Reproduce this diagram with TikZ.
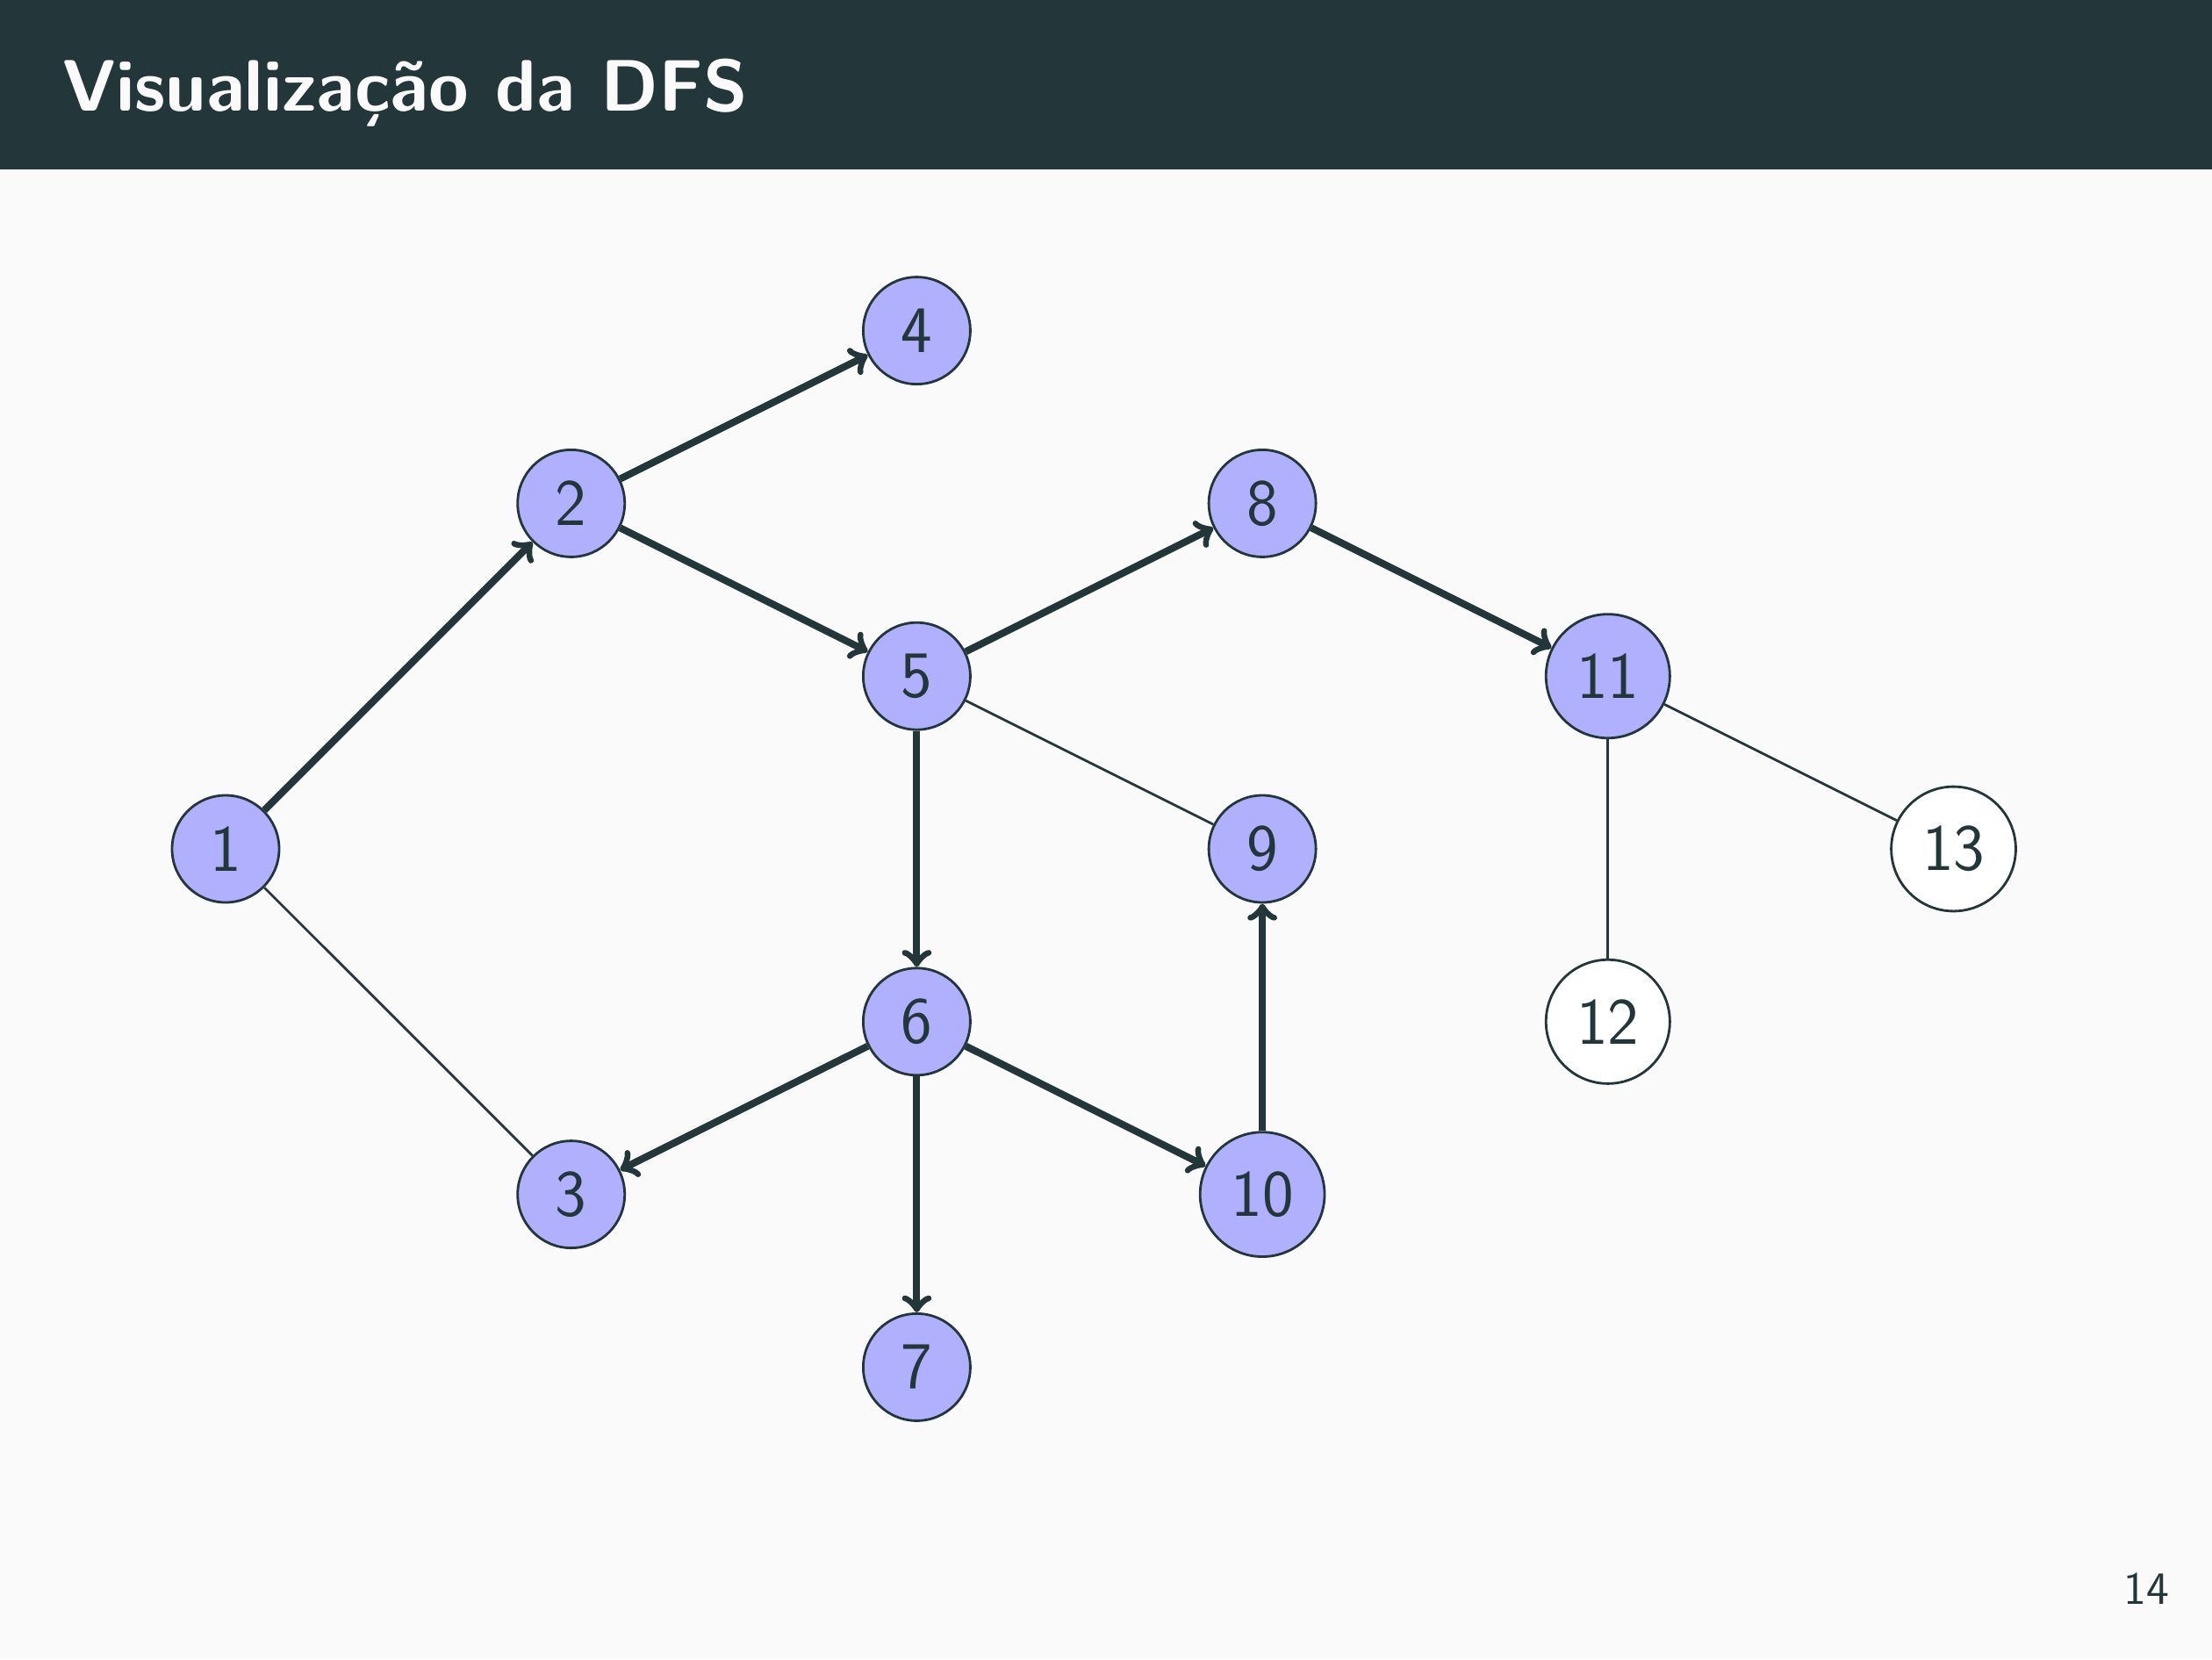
\documentclass[tikz,border=0pt]{standalone}
\begin{document}
\begin{tikzpicture}[x=1cm,y=1cm]
\definecolor{mdark}{HTML}{23373B}
\definecolor{mbg}{HTML}{FAFAFA}
\definecolor{vfill}{RGB}{176,176,255}
\tikzset{
  vert/.style={circle,draw=mdark,line width=0.8pt,fill=vfill,text=mdark,
    inner sep=5.5pt,minimum size=1.22cm,font=\sffamily\fontsize{21.5}{25}\selectfont},
  unvis/.style={vert,fill=white},
  tree/.style={->,draw=mdark,line width=2.3pt},
  plain/.style={draw=mdark,line width=0.8pt}
}
\fill[mbg] (0,0) rectangle (25.2,-18.9);
\useasboundingbox (0,0) rectangle (25.2,-18.9);
\fill[mdark] (0,0) rectangle (25.2,-1.93);
\node[anchor=base west,inner sep=0pt,text=mbg,font=\sffamily\bfseries\fontsize{23.6}{28}\selectfont] (title) at (0.71,-1.26) {Visualização da DFS};
\node[anchor=base east,inner sep=0pt,text=mdark,font=\sffamily\fontsize{15}{18}\selectfont] (pg) at (24.72,-18.27) {14};

\def\xa{2.57}\def\dx{3.937}\def\ya{-9.67}\def\dy{1.968}
\node[vert] (n1) at (\xa,\ya) {1};
\node[vert] (n2) at (\xa+\dx,\ya+2*\dy) {2};
\node[vert] (n3) at (\xa+\dx,\ya-2*\dy) {3};
\node[vert] (n4) at (\xa+2*\dx,\ya+3*\dy) {4};
\node[vert] (n5) at (\xa+2*\dx,\ya+\dy) {5};
\node[vert] (n6) at (\xa+2*\dx,\ya-\dy) {6};
\node[vert] (n7) at (\xa+2*\dx,\ya-3*\dy) {7};
\node[vert] (n8) at (\xa+3*\dx,\ya+2*\dy) {8};
\node[vert] (n9) at (\xa+3*\dx,\ya) {9};
\node[vert] (n10) at (\xa+3*\dx,\ya-2*\dy) {10};
\node[vert] (n11) at (\xa+4*\dx,\ya+\dy) {11};
\node[unvis] (n12) at (\xa+4*\dx,\ya-\dy) {12};
\node[unvis] (n13) at (\xa+5*\dx,\ya) {13};

\draw[plain] (n1) -- (n3);
\draw[plain] (n5) -- (n9);
\draw[plain] (n11) -- (n12);
\draw[plain] (n11) -- (n13);
\draw[tree] (n1) -- (n2);
\draw[tree] (n2) -- (n4);
\draw[tree] (n2) -- (n5);
\draw[tree] (n5) -- (n8);
\draw[tree] (n5) -- (n6);
\draw[tree] (n8) -- (n11);
\draw[tree] (n6) -- (n3);
\draw[tree] (n6) -- (n7);
\draw[tree] (n6) -- (n10);
\draw[tree] (n10) -- (n9);
\end{tikzpicture}
\end{document}
